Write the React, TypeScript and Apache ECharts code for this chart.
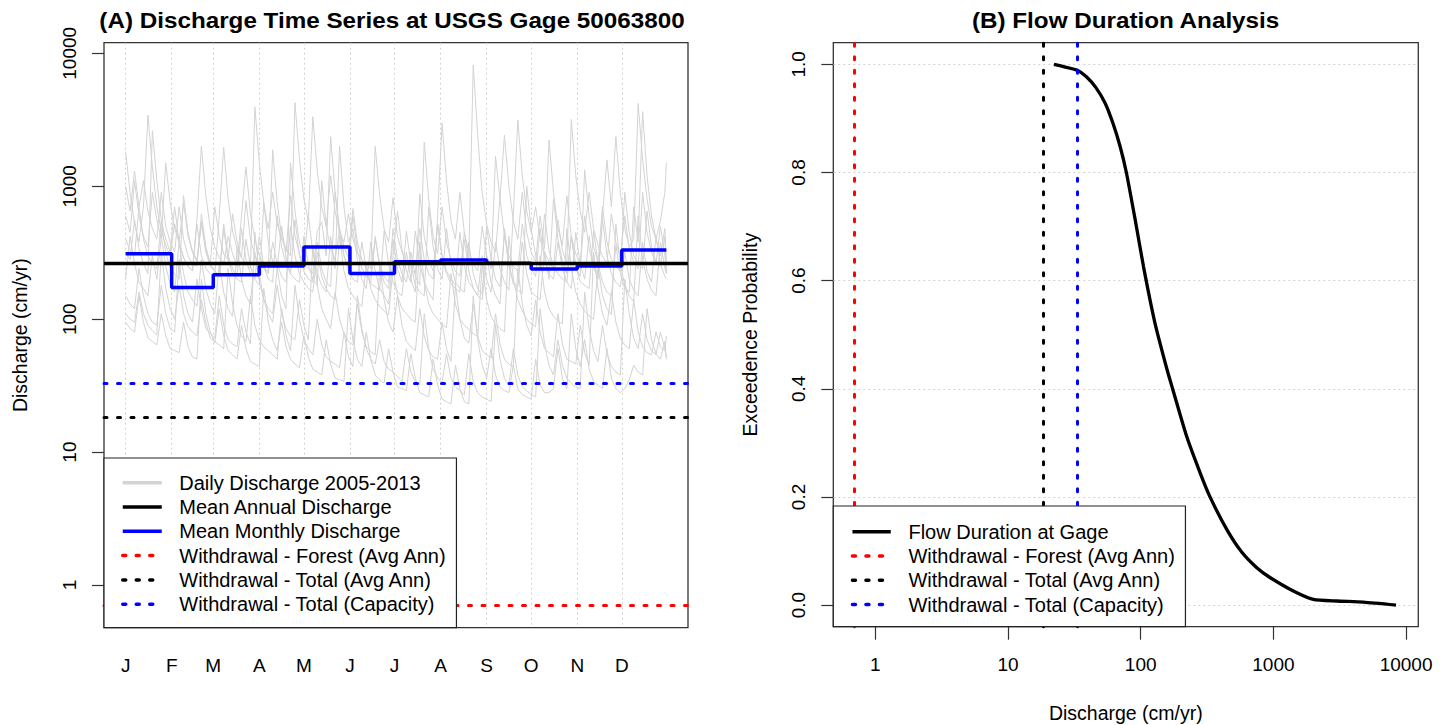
import React, { useEffect, useRef } from 'react';
import * as echarts from 'echarts';

// ---------- data ----------
const monthLetters = ['J', 'F', 'M', 'A', 'M', 'J', 'J', 'A', 'S', 'O', 'N', 'D'];
const monthStartDays = [1, 32, 60, 91, 121, 152, 182, 213, 244, 274, 305, 335];
const yearEndDay = 365;
const monthlyMeans = [310, 173, 216, 251, 349, 221, 270, 279, 263, 239, 251, 331];
const annualMean = 264;
const withdrawalForest = 0.7;
const withdrawalTotalAvg = 18.3;
const withdrawalCapacity = 33.2;
const logTicks = [1, 10, 100, 1000, 10000];
const probTicks = [0, 0.2, 0.4, 0.6, 0.8, 1.0];

// day of year of each sampled daily value (every third day)
const sampleDays = [1, 4, 7, 10, 13, 16, 19, 22, 25, 28, 31, 34, 37, 40, 43, 46, 49, 52, 55, 58, 61, 64, 67, 70, 73, 76, 79, 82, 85, 88, 91, 94, 97, 100, 103, 106, 109, 112, 115, 118, 121, 124, 127, 130, 133, 136, 139, 142, 145, 148, 151, 154, 157, 160, 163, 166, 169, 172, 175, 178, 181, 184, 187, 190, 193, 196, 199, 202, 205, 208, 211, 214, 217, 220, 223, 226, 229, 232, 235, 238, 241, 244, 247, 250, 253, 256, 259, 262, 265, 268, 271, 274, 277, 280, 283, 286, 289, 292, 295, 298, 301, 304, 307, 310, 313, 316, 319, 322, 325, 328, 331, 334, 337, 340, 343, 346, 349, 352, 355, 358, 361, 364, 365];

const daily2005 = [
  1820, 900, 520, 380, 700, 3430, 1400, 700, 460, 360,
  300, 520, 380, 290, 250, 230, 560, 2000, 850, 480,
  350, 290, 260, 420, 310, 250, 600, 1400, 620, 400,
  300, 250, 220, 380, 260, 210, 190, 500, 300, 220,
  190, 170, 160, 320, 210, 170, 150, 140, 420, 230,
  170, 150, 135, 125, 260, 170, 140, 125, 115, 108,
  240, 150, 120, 110, 100, 95, 380, 190, 130, 110,
  100, 92, 86, 220, 130, 100, 90, 84, 78, 74,
  260, 140, 105, 92, 85, 80, 420, 200, 140, 115,
  100, 92, 88, 300, 160, 120, 105, 98, 92, 480,
  240, 160, 130, 115, 106, 100, 250, 150, 120, 108,
  520, 260, 180, 150, 135, 600, 280, 200, 165, 150,
  380, 240, 230];
const daily2006 = [
  320, 280, 560, 340, 260, 220, 2620, 1100, 560, 400,
  320, 700, 380, 290, 250, 230, 520, 300, 240, 220,
  210, 600, 1960, 800, 460, 340, 290, 780, 400, 300,
  260, 240, 230, 1880, 750, 420, 320, 850, 420, 310,
  260, 240, 220, 460, 540, 300, 2360, 900, 480, 350,
  290, 680, 380, 280, 240, 210, 400, 260, 210, 190,
  480, 280, 220, 190, 320, 210, 180, 2150, 800, 420,
  310, 700, 380, 280, 230, 210, 450, 280, 8170, 2400,
  900, 520, 380, 320, 820, 420, 300, 250, 230, 520,
  300, 240, 210, 480, 280, 220, 200, 380, 240, 190,
  170, 450, 260, 200, 420, 250, 200, 560, 300, 220,
  190, 175, 320, 200, 165, 150, 380, 230, 190, 420,
  260, 210, 200];
const daily2007 = [
  110, 100, 95, 160, 110, 90, 82, 76, 320, 170,
  120, 100, 180, 110, 88, 80, 75, 140, 95, 72,
  68, 64, 60, 240, 130, 90, 75, 68, 150, 90,
  70, 62, 58, 54, 50, 120, 75, 58, 180, 100,
  70, 60, 54, 100, 64, 52, 48, 46, 43, 80,
  52, 44, 150, 85, 60, 50, 46, 70, 48, 42,
  40, 37, 34, 60, 40, 34, 32, 110, 60, 42,
  36, 33, 55, 36, 31, 29, 27, 55, 34, 28,
  26, 25, 24, 90, 50, 36, 32, 60, 38, 31,
  29, 27, 26, 120, 65, 45, 38, 70, 45, 36,
  33, 31, 30, 160, 85, 58, 48, 90, 55, 44,
  40, 38, 200, 110, 72, 60, 110, 70, 58, 54,
  80, 60, 52];
const daily2008 = [
  600, 450, 1100, 600, 420, 350, 900, 560, 400, 1500,
  750, 480, 380, 750, 420, 320, 280, 540, 340, 260,
  700, 420, 310, 280, 620, 380, 290, 260, 240, 3960,
  1500, 750, 480, 900, 520, 400, 340, 300, 4250, 1600,
  800, 550, 3330, 1300, 700, 500, 1200, 650, 450, 380,
  620, 400, 320, 280, 260, 240, 2000, 850, 480, 380,
  820, 420, 320, 270, 240, 220, 480, 280, 220, 200,
  520, 300, 230, 200, 180, 450, 250, 190, 170, 150,
  300, 200, 160, 380, 240, 190, 165, 620, 3150, 1200,
  650, 450, 700, 400, 320, 270, 240, 560, 330, 260,
  3180, 1200, 650, 450, 900, 480, 360, 300, 260, 620,
  380, 290, 600, 340, 270, 240, 900, 450, 320, 260,
  500, 300, 220];
const daily2009 = [
  200, 420, 260, 190, 170, 150, 300, 200, 420, 250,
  185, 160, 380, 220, 160, 140, 125, 280, 170, 130,
  110, 260, 160, 120, 105, 350, 200, 150, 130, 320,
  190, 140, 120, 110, 240, 150, 120, 1500, 650, 380,
  280, 600, 320, 220, 180, 160, 420, 240, 2000, 700,
  380, 480, 280, 200, 170, 380, 230, 170, 150, 130,
  300, 650, 340, 230, 190, 460, 260, 190, 160, 140,
  600, 2980, 1100, 550, 400, 900, 450, 320, 260, 230,
  500, 300, 240, 1680, 800, 2420, 1000, 550, 400, 900,
  450, 320, 270, 600, 340, 2230, 900, 480, 360, 850,
  420, 310, 260, 600, 340, 250, 220, 600, 1580, 700,
  2360, 900, 480, 350, 400, 4200, 1600, 800, 500, 400,
  550, 900, 1500];
const daily2010 = [
  1000, 650, 1300, 700, 1100, 650, 480, 400, 900, 500,
  380, 320, 700, 400, 300, 260, 250, 620, 350, 260,
  230, 210, 520, 300, 240, 210, 480, 280, 220, 200,
  420, 250, 200, 190, 600, 350, 260, 220, 560, 300,
  230, 200, 190, 380, 240, 190, 175, 900, 450, 300,
  240, 600, 330, 240, 210, 190, 420, 250, 190, 170,
  400, 240, 190, 460, 260, 180, 160, 150, 700, 350,
  240, 200, 480, 260, 190, 170, 160, 380, 220, 170,
  155, 500, 280, 200, 175, 440, 250, 185, 165, 155,
  1000, 480, 300, 240, 620, 330, 250, 220, 200, 190,
  420, 250, 210, 1330, 600, 350, 270, 700, 380, 280,
  250, 230, 900, 450, 300, 260, 240, 650, 350, 270,
  250, 420, 260];
const daily2011 = [
  150, 130, 120, 240, 150, 110, 95, 90, 180, 110,
  85, 80, 280, 150, 110, 95, 200, 120, 85, 78,
  72, 150, 90, 70, 65, 62, 120, 80, 65, 450,
  220, 140, 110, 95, 180, 110, 85, 74, 70, 140,
  90, 70, 360, 180, 120, 100, 85, 160, 100, 78,
  68, 64, 130, 80, 62, 57, 54, 260, 140, 95,
  80, 150, 90, 68, 62, 58, 120, 75, 58, 52,
  50, 95, 60, 48, 180, 100, 72, 66, 130, 75,
  58, 54, 51, 110, 65, 50, 46, 44, 240, 130,
  90, 75, 140, 80, 60, 56, 52, 110, 65, 50,
  48, 46, 90, 56, 45, 320, 170, 110, 90, 160,
  95, 72, 64, 60, 140, 80, 62, 56, 54, 80,
  62, 58, 75];
const daily2012 = [
  400, 330, 300, 700, 400, 300, 260, 240, 550, 320,
  240, 220, 200, 850, 450, 320, 270, 520, 320, 250,
  230, 210, 480, 280, 220, 200, 190, 400, 250, 200,
  180, 750, 380, 270, 240, 500, 290, 220, 200, 190,
  420, 260, 200, 180, 1100, 500, 340, 280, 480, 300,
  230, 200, 190, 380, 240, 185, 175, 165, 460, 260,
  190, 160, 150, 320, 200, 160, 880, 420, 280, 230,
  520, 300, 220, 185, 170, 160, 400, 230, 170, 150,
  140, 300, 190, 150, 130, 480, 260, 190, 175, 380,
  220, 160, 150, 140, 320, 200, 800, 400, 270, 220,
  420, 250, 190, 180, 170, 460, 260, 190, 160, 150,
  360, 220, 170, 160, 700, 380, 3640, 1200, 600, 400,
  300, 480, 220];
const daily2013 = [
  95, 85, 80, 150, 95, 72, 68, 64, 110, 75,
  60, 58, 56, 95, 62, 52, 50, 200, 110, 80,
  66, 120, 75, 58, 54, 50, 90, 60, 48, 46,
  44, 170, 95, 70, 58, 95, 62, 50, 46, 43,
  75, 52, 42, 40, 38, 70, 46, 36, 35, 34,
  120, 70, 50, 44, 80, 50, 38, 35, 33, 60,
  40, 31, 30, 29, 55, 36, 28, 27, 26, 50,
  32, 25, 24, 23, 45, 30, 24, 23, 150, 70,
  45, 36, 60, 38, 31, 29, 28, 45, 30, 27,
  26, 25, 50, 32, 28, 28, 30, 60, 36, 30,
  110, 60, 44, 70, 42, 34, 32, 30, 60, 36,
  30, 28, 30, 35, 45, 40, 38, 120, 70, 55,
  50, 68, 50];
const dailyYears = [daily2005, daily2006, daily2007, daily2008, daily2009, daily2010, daily2011, daily2012, daily2013];

const flowDischarge = [22.2, 27, 33.3, 39, 46, 54, 62, 70, 78, 91, 105, 128, 157, 174, 222, 280, 333, 445, 577, 750, 942, 1413, 2000, 3000, 4760, 8400];
const flowExceedance = [1.0, 0.995, 0.989, 0.977, 0.957, 0.928, 0.89, 0.848, 0.8, 0.712, 0.626, 0.522, 0.438, 0.4, 0.312, 0.245, 0.2, 0.14, 0.098, 0.069, 0.051, 0.026, 0.0105, 0.0075, 0.0055, 0.0];

// ---------- names / styles ----------
const N_DAILY = 'Daily Discharge 2005-2013';
const N_ANNUAL = 'Mean Annual Discharge';
const N_MONTHLY = 'Mean Monthly Discharge';
const N_FOREST = 'Withdrawal - Forest (Avg Ann)';
const N_TOTAL = 'Withdrawal - Total (Avg Ann)';
const N_CAP = 'Withdrawal - Total (Capacity)';
const N_FLOW = 'Flow Duration at Gage';

const FONT = "'Liberation Sans', Arial, Helvetica, sans-serif";
const DOT = [3, 10.5];
const GRID_GRAY = '#d3d3d3';
const AXIS_COLOR = '#333';

function refLine(name: string, color: string, axis: 'xAxis' | 'yAxis', value: number, idx: number, dotted: boolean, width: number) {
  const ls: any = { color, width, type: dotted ? DOT : 'solid', cap: dotted ? 'round' : 'butt' };
  return {
    type: 'line',
    name,
    xAxisIndex: idx,
    yAxisIndex: idx,
    data: [],
    symbol: 'none',
    color,
    lineStyle: ls,
    z: 3,
    markLine: {
      silent: true,
      symbol: 'none',
      label: { show: false },
      lineStyle: ls,
      emphasis: { disabled: true },
      data: [{ [axis]: value }],
    },
  };
}

export default function App() {
  const ref = useRef<HTMLDivElement>(null);

  useEffect(() => {
    if (!ref.current) return;
    const chart = echarts.init(ref.current, null, { renderer: 'svg' });

    const dailySeries = dailyYears.map((vals) => ({
      type: 'line',
      name: N_DAILY,
      xAxisIndex: 0,
      yAxisIndex: 0,
      data: sampleDays
        .map((d, j) => [d, vals[j]])
        .filter((p) => p[1] !== undefined),
      symbol: 'none',
      color: GRID_GRAY,
      lineStyle: { color: GRID_GRAY, width: 1 },
      silent: true,
      z: 1,
    }));

    const monthlyData = monthStartDays.map((d, i) => [d, monthlyMeans[i]]);
    monthlyData.push([yearEndDay, monthlyMeans[monthlyMeans.length - 1]]);

    const legendCommon: any = {
      orient: 'vertical',
      itemHeight: 24,
      itemGap: 0.3,
      backgroundColor: '#fff',
      borderColor: '#222',
      borderWidth: 1.2,
      borderRadius: 0,
      selectedMode: false,
      lineStyle: { width: 3.5 },
      itemStyle: { color: 'rgba(0,0,0,0)', borderColor: 'rgba(0,0,0,0)', borderWidth: 0 },
      textStyle: { fontSize: 20, color: '#000', lineHeight: 24, fontFamily: FONT },
      z: 10,
    };

    const titleStyle = { fontSize: 22.5, fontWeight: 'bold', fontFamily: FONT, fill: '#000', align: 'center', verticalAlign: 'middle' };

    const option: any = {
      animation: false,
      backgroundColor: '#fff',
      textStyle: { fontFamily: FONT },
      graphic: [
        {
          type: 'text', x: 392, y: 20, scaleX: 1.077, silent: true,
          style: { ...titleStyle, text: '(A) Discharge Time Series at USGS Gage 50063800' },
        },
        {
          type: 'text', x: 1125.6, y: 20, scaleX: 1.077, silent: true,
          style: { ...titleStyle, text: '(B) Flow Duration Analysis' },
        },
      ],
      grid: [
        { left: 104, top: 42.7, width: 584, height: 585, show: true, borderColor: AXIS_COLOR, borderWidth: 1.3, backgroundColor: 'transparent', containLabel: false, outerBoundsMode: 'none' },
        { left: 833.3, top: 42.7, width: 585, height: 584, show: true, borderColor: AXIS_COLOR, borderWidth: 1.3, backgroundColor: 'transparent', containLabel: false, outerBoundsMode: 'none' },
      ],
      legend: [
        {
          ...legendCommon,
          left: 104, top: 458,
          itemWidth: 39,
          padding: [12.7, 9.7, 11.5, 17],
          textStyle: { ...legendCommon.textStyle, padding: [0, 0, 0, 12.5] },
          data: [N_DAILY, N_ANNUAL, N_MONTHLY, N_FOREST, N_TOTAL, N_CAP],
        },
        {
          ...legendCommon,
          left: 833.3, top: 506,
          itemWidth: 38.3,
          padding: [13.7, 9.5, 10.1, 17.4],
          textStyle: { ...legendCommon.textStyle, padding: [0, 0, 0, 12.7] },
          data: [N_FLOW, N_FOREST, N_TOTAL, N_CAP],
        },
      ],
      xAxis: [
        {
          gridIndex: 0, type: 'value', min: -13.56, max: 379.56,
          axisLine: { show: false, onZero: false },
          axisTick: { show: false, customValues: monthStartDays },
          axisLabel: {
            customValues: monthStartDays, margin: 28, fontSize: 19, color: '#000', fontFamily: FONT,
            formatter: (v: number) => { const i = monthStartDays.indexOf(Math.round(v)); return i >= 0 ? monthLetters[i] : ''; },
          },
          splitLine: { show: true, lineStyle: { color: GRID_GRAY, width: 1, type: [2, 3] } },
        },
        {
          gridIndex: 1, type: 'log', logBase: 10, min: 0.4827, max: 12360,
          axisLine: { show: false, onZero: false },
          axisTick: { show: true, length: 13, customValues: logTicks, lineStyle: { color: AXIS_COLOR, width: 1.2 } },
          axisLabel: { customValues: logTicks, margin: 28, fontSize: 19, color: '#000', fontFamily: FONT, formatter: (v: number) => String(Math.round(v)) },
          splitLine: { show: false },
          name: 'Discharge (cm/yr)', nameLocation: 'middle', nameGap: 76,
          nameTextStyle: { fontSize: 19.5, color: '#000', fontFamily: FONT },
        },
      ],
      yAxis: [
        {
          gridIndex: 0, type: 'log', logBase: 10, min: 0.4775, max: 12020,
          axisLine: { show: false, onZero: false },
          axisTick: { show: true, length: 12, customValues: logTicks, lineStyle: { color: AXIS_COLOR, width: 1.2 } },
          axisLabel: { customValues: logTicks, rotate: 90, margin: 25.5, fontSize: 19, color: '#000', fontFamily: FONT, formatter: (v: number) => String(Math.round(v)) },
          splitLine: { show: false },
          name: 'Discharge (cm/yr)', nameLocation: 'middle', nameGap: 74,
          nameTextStyle: { fontSize: 19.5, color: '#000', fontFamily: FONT },
        },
        {
          gridIndex: 1, type: 'value', min: -0.04, max: 1.04,
          axisLine: { show: false, onZero: false },
          axisTick: { show: true, length: 12, customValues: probTicks, lineStyle: { color: AXIS_COLOR, width: 1.2 } },
          axisLabel: { customValues: probTicks, rotate: 90, margin: 25, fontSize: 19, color: '#000', fontFamily: FONT, formatter: (v: number) => v.toFixed(1) },
          splitLine: { show: true, lineStyle: { color: GRID_GRAY, width: 1, type: [2, 3] } },
          name: 'Exceedence Probability', nameLocation: 'middle', nameGap: 73,
          nameTextStyle: { fontSize: 19.5, color: '#000', fontFamily: FONT },
        },
      ],
      series: [
        ...dailySeries,
        refLine(N_FOREST, '#ff0000', 'yAxis', withdrawalForest, 0, true, 3),
        refLine(N_TOTAL, '#000000', 'yAxis', withdrawalTotalAvg, 0, true, 3),
        refLine(N_CAP, '#0000ff', 'yAxis', withdrawalCapacity, 0, true, 3),
        refLine(N_ANNUAL, '#000000', 'yAxis', annualMean, 0, false, 3.3),
        {
          type: 'line', name: N_MONTHLY, xAxisIndex: 0, yAxisIndex: 0,
          data: monthlyData, step: 'end', symbol: 'none', color: '#0000ff',
          lineStyle: { color: '#0000ff', width: 3.5 }, z: 4, silent: true,
        },
        refLine(N_FOREST, '#ff0000', 'xAxis', withdrawalForest, 1, true, 3),
        refLine(N_TOTAL, '#000000', 'xAxis', withdrawalTotalAvg, 1, true, 3),
        refLine(N_CAP, '#0000ff', 'xAxis', withdrawalCapacity, 1, true, 3),
        {
          type: 'line', name: N_FLOW, xAxisIndex: 1, yAxisIndex: 1,
          data: flowDischarge.map((q, i) => [q, flowExceedance[i]]),
          smooth: 0.2, symbol: 'none', color: '#000000',
          lineStyle: { color: '#000000', width: 3.3 }, z: 4, silent: true,
        },
      ],
    };

    chart.setOption(option);
    return () => chart.dispose();
  }, []);

  return (
    <div
      ref={ref}
      style={{ position: 'absolute', left: 0, top: 0, width: 1451, height: 725, background: '#fff' }}
    />
  );
}
